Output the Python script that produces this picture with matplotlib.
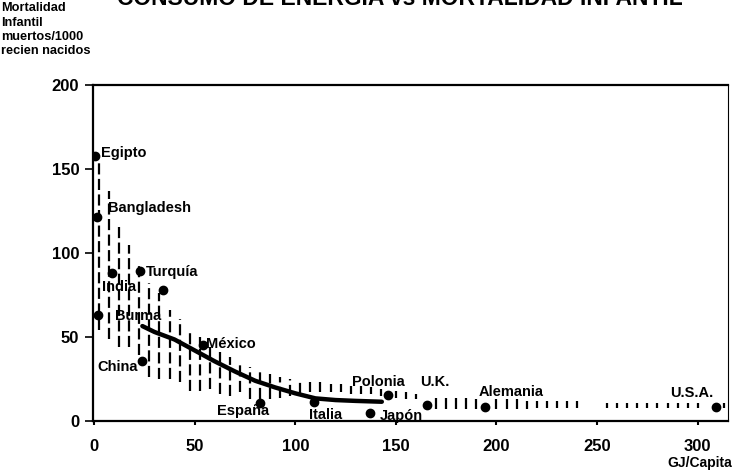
import matplotlib
matplotlib.use("Agg")
import matplotlib.pyplot as plt

plt.rcParams["font.family"] = ["Liberation Sans", "DejaVu Sans"]

# --- data ---
energy = [0.5, 1.5, 2, 9, 23, 34, 24, 54, 82.5, 109.5, 137, 146, 165.7, 194.5, 309]
mortality = [157.7, 121.4, 63, 88, 89, 78, 35.7, 45, 10.7, 11.3, 4.8, 15.5, 9.5, 8.3, 8.3]

label_text = ["Egipto", "Bangladesh", "India", "Turquía", "Burma", "China", "México",
              "España", "Italia", "Japón", "Polonia", "U.K.", "Alemania", "U.S.A."]
label_x = [3.5, 7, 4, 25.5, 10.5, 1.5, 55.7, 61, 107, 142, 128, 162, 191, 286.5]
label_y = [159.5, 127, 80, 88.7, 62.5, 32, 46, 6, 3.6, 3, 23.5, 23, 17.5, 16.5]

# trend curve
trend_x = [24, 30, 40, 50, 60, 70, 80, 90, 100, 110, 120, 130, 143]
trend_y = [56.5, 53, 48.5, 42, 35.5, 29.5, 24, 20, 16.5, 13.5, 12.5, 12, 11.5]

# hatched band (vertical dashed strokes)
band_x = [2.5, 7.5, 12.5, 17.5, 22.5, 27.5, 32.5, 37.5, 42.5, 47.5, 52.5, 57.5, 62.5,
          67.5, 72.5, 77.5, 82.5, 87.5, 92.5, 97.5, 102.5, 107.5, 112.5, 117.5, 122.5,
          127.5, 132.5, 137.5, 142.5, 150, 155, 160, 170, 175, 180, 185, 190, 200, 205,
          210, 215, 220, 225, 230, 235, 240, 255, 260, 265, 270, 275, 280, 285, 290,
          295, 300, 313]
band_hi = [156, 137, 117, 105, 94, 82, 76, 66, 61, 55, 50, 44, 41,
           38, 34, 32, 30, 28, 26, 25, 24, 23, 23, 22, 22,
           21, 21, 20, 19, 18, 17, 16, 14, 14, 14, 14, 13, 13, 13,
           13, 12, 12, 12, 12, 12, 12, 11, 11, 11, 11, 11, 11, 11, 11,
           11, 11, 11]
band_lo = [54, 49, 44, 44, 39, 26, 25, 25, 23, 18, 18, 19, 16,
           15, 17, 13, 13, 13, 14, 15, 16, 17, 17, 17, 17,
           16, 16, 16, 15, 14, 13, 13, 7, 7, 7, 7, 7, 7, 7,
           7, 7, 7.5, 7.5, 7.5, 7.5, 7.5, 7.5, 7.5, 7.5, 7.5, 7.5, 7.5, 7.5, 7.5,
           7.5, 7.5, 7.5]

x_ticks = [0, 50, 100, 150, 200, 250, 300]
y_ticks = [0, 50, 100, 150, 200]

fig = plt.figure(figsize=(7.33, 4.71), dpi=100)
ax = fig.add_axes([0.127, 0.106, 0.866, 0.714])

ax.vlines(band_x, band_lo, band_hi, colors="black", linewidth=1.6,
          linestyles=(0, (5, 2)))
ax.plot(trend_x, trend_y, color="black", linewidth=3.2, solid_capstyle="round")
ax.plot(energy, mortality, "o", color="black", markersize=6)

for txt, tx, ty in zip(label_text, label_x, label_y):
    ax.text(tx, ty, txt, fontsize=10.5, fontweight="bold", ha="left", va="center")

ax.set_xlim(-0.5, 315)
ax.set_ylim(0, 200)
ax.set_xticks(x_ticks)
ax.set_yticks(y_ticks)
ax.tick_params(axis="y", direction="out", length=6, width=1.2, labelsize=12, pad=4)
ax.tick_params(axis="x", direction="out", length=3, width=1.5, labelsize=12, pad=10)
for lab in ax.get_xticklabels() + ax.get_yticklabels():
    lab.set_fontweight("bold")

for side in ["top", "bottom", "left"]:
    ax.spines[side].set_linewidth(1.6)
ax.spines["right"].set_linewidth(0.8)

fig.text(0.002, 0.995, "Mortalidad\nInfantil\nmuertos/1000\nrecien nacidos",
         fontsize=9.2, fontweight="bold", ha="left", va="top", linespacing=1.25)
fig.text(0.999, 0.003, "GJ/Capita", fontsize=10, fontweight="bold",
         ha="right", va="bottom")
# title is cut off by the top edge of the scan, as in the original
fig.text(0.545, 0.9894, "CONSUMO DE ENERGIA vs MORTALIDAD INFANTIL", fontsize=16.5,
         fontweight="bold", ha="center", va="baseline")

fig.savefig("out.png", dpi=100)
